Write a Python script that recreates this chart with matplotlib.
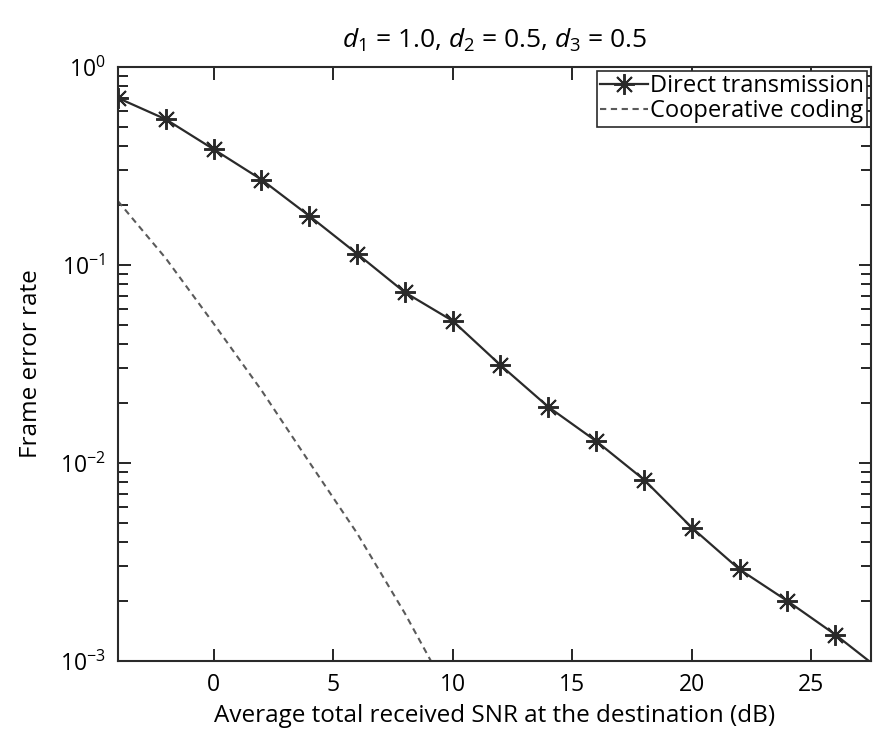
import numpy as np
import matplotlib
matplotlib.use("Agg")
import matplotlib.pyplot as plt

# frame error rate vs. average received SNR
snr_db = [-4, -2, 0, 2, 4, 6, 8, 10, 12, 14, 16, 18, 20, 22, 24, 26, 28]
fer_direct = [0.697, 0.544, 0.384, 0.270, 0.177, 0.114, 0.0727, 0.0522,
              0.0312, 0.0192, 0.0129, 0.00824, 0.00472, 0.0029, 0.00201,
              0.00136, 0.00088]

snr_coop = [-4, -2, 0, 2, 4, 6, 8, 10]
fer_coop = [0.21, 0.108, 0.0506, 0.0233, 0.0101, 0.00442, 0.00174, 0.00063]

plt.rcParams['font.family'] = ['Open Sans', 'DejaVu Sans']
plt.rcParams['mathtext.fontset'] = 'custom'
plt.rcParams['mathtext.it'] = 'Open Sans:italic'
plt.rcParams['mathtext.rm'] = 'Open Sans'

fig = plt.figure(figsize=(8.76, 7.44), dpi=100)
ax = fig.add_axes([0.1347, 0.1116, 0.8596, 0.7984])

ax.semilogy(snr_db, fer_direct, color='#2a2a2a', lw=1.6, marker=(8, 2, 0),
            markersize=15, markeredgewidth=1.4, label='Direct transmission')
ax.semilogy(snr_coop, fer_coop, color='#5a5a5a', lw=1.5, ls=(0, (3, 2.2)),
            label='Cooperative coding')

ax.set_xlim(-4, 27.5)
ax.set_ylim(1e-3, 1)
ax.set_xticks([0, 5, 10, 15, 20, 25])

ax.tick_params(which='both', direction='in', top=True, right=True,
               labelsize=16.5, width=1.2)
ax.tick_params(which='major', length=9, pad=9)
ax.tick_params(which='minor', length=7)
ax.minorticks_on()
ax.xaxis.set_minor_locator(matplotlib.ticker.NullLocator())
for s in ax.spines.values():
    s.set_linewidth(1.5)
    s.set_color('#2a2a2a')

ax.set_title(r'$d_1$ = 1.0, $d_2$ = 0.5, $d_3$ = 0.5', fontsize=19, pad=14)
ax.set_xlabel('Average total received SNR at the destination (dB)',
              fontsize=17.5, labelpad=5)
ax.set_ylabel('Frame error rate', fontsize=17.5, labelpad=12)

leg = ax.legend(loc='upper right', fontsize=17, handlelength=2.0,
                handletextpad=0.1, borderpad=0.15, labelspacing=0.05,
                borderaxespad=0.15, fancybox=False, framealpha=1,
                edgecolor='#2a2a2a')
leg.get_frame().set_linewidth(1.2)

fig.savefig('out.png', dpi=100)
